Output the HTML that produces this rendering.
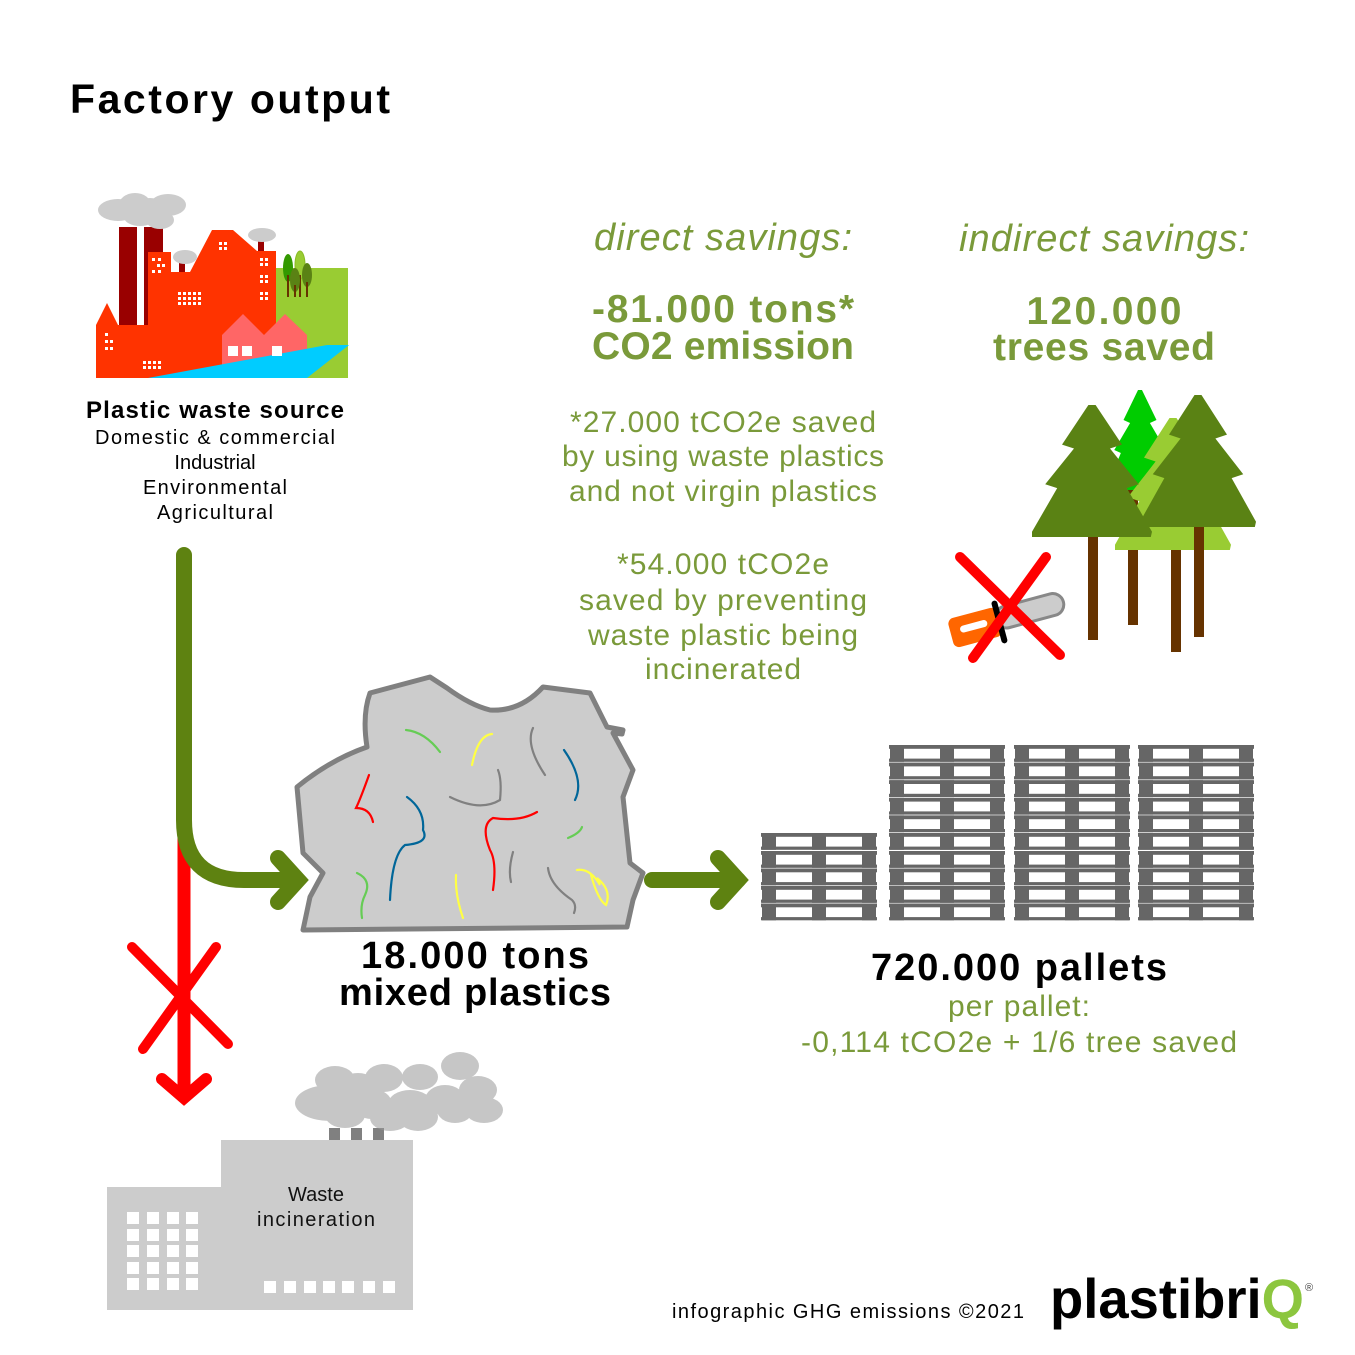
<!DOCTYPE html>
<html><head><meta charset="utf-8"><style>
html,body{margin:0;padding:0;background:#fff}
svg{display:block}
text{font-family:"Liberation Sans",sans-serif}
</style></head><body>
<svg width="1355" height="1355" viewBox="0 0 1355 1355" xmlns="http://www.w3.org/2000/svg">
<rect width="1355" height="1355" fill="#fff"/>
<defs>
<g id="fir"><polygon points="-0.06,0 0.06,0 0.5,0.3 0.3,0.33 0.78,0.6 0.58,0.63 1,0.96 0.98,1 -1,1 -1,0.96 -0.58,0.63 -0.78,0.6 -0.3,0.33 -0.5,0.3"/></g>
<g id="pal" fill="#666">
<rect x="0" y="0" width="116" height="3.8"/>
<rect x="0" y="13.6" width="116" height="3.2"/>
<rect x="1" y="0" width="14" height="16.8"/><rect x="51" y="0" width="14" height="16.8"/><rect x="101" y="0" width="14" height="16.8"/>
</g>
</defs>
<text x="70" y="113" font-size="41" font-weight="bold" fill="#000" textLength="320">Factory output</text>

<!-- factory -->
<g>
<rect x="276" y="268" width="72" height="110" fill="#99cc33"/>
<ellipse cx="288" cy="268" rx="5" ry="14" fill="#339900"/><rect x="287" y="275" width="2" height="22" fill="#663300"/>
<ellipse cx="300" cy="265" rx="5" ry="14" fill="#99cc33" stroke="#88bb22"/><rect x="299" y="275" width="2" height="22" fill="#663300"/>
<ellipse cx="295" cy="280" rx="5" ry="12" fill="#5a8214"/><rect x="294" y="285" width="2" height="12" fill="#663300"/>
<ellipse cx="307" cy="275" rx="5" ry="12" fill="#5a8214"/><rect x="306" y="282" width="2" height="15" fill="#663300"/>
<rect x="119" y="227" width="18" height="100" fill="#990000"/>
<rect x="144" y="227" width="19" height="100" fill="#990000"/>
<rect x="179" y="262" width="6" height="12" fill="#990000"/>
<rect x="258" y="240" width="6" height="12" fill="#990000"/>
<g fill="#ccc">
<ellipse cx="118" cy="210" rx="20" ry="11"/><ellipse cx="135" cy="205" rx="16" ry="12"/><ellipse cx="150" cy="210" rx="16" ry="12"/><ellipse cx="168" cy="205" rx="18" ry="11"/><ellipse cx="140" cy="217" rx="16" ry="9"/><ellipse cx="160" cy="220" rx="14" ry="9"/>
<ellipse cx="185" cy="257" rx="12" ry="7"/><ellipse cx="262" cy="235" rx="14" ry="7"/>
</g>
<polygon points="96,325 107,303 118,325 148,325 148,252 171,252 171,272 190,272 212,230 233,230 257,251 276,251 276,378 96,378" fill="#ff3300"/>
<polygon points="222,335 243,314 264,335 285,314 307,335 307,378 222,378" fill="#ff6666"/>
<polygon points="148,378 327,345 349,345 307,378" fill="#00ccff"/>
<g fill="#fff">
<rect x="105" y="333" width="3" height="3"/><rect x="105" y="340" width="3" height="3"/><rect x="110" y="340" width="3" height="3"/><rect x="105" y="347" width="3" height="3"/><rect x="110" y="347" width="3" height="3"/>
<rect x="152" y="258" width="3" height="3"/><rect x="158" y="258" width="3" height="3"/><rect x="157" y="264" width="3" height="3"/><rect x="162" y="264" width="3" height="3"/><rect x="152" y="270" width="3" height="3"/><rect x="158" y="270" width="3" height="3"/>
<g id="w4"><rect x="178" y="292" width="3" height="3"/><rect x="183" y="292" width="3" height="3"/><rect x="188" y="292" width="3" height="3"/><rect x="193" y="292" width="3" height="3"/><rect x="198" y="292" width="3" height="3"/></g>
<use href="#w4" y="5"/><use href="#w4" y="10"/>
<rect x="219" y="242" width="3" height="3"/><rect x="224" y="242" width="3" height="3"/><rect x="219" y="247" width="3" height="3"/><rect x="224" y="247" width="3" height="3"/>
<rect x="260" y="258" width="3" height="3"/><rect x="265" y="258" width="3" height="3"/><rect x="260" y="263" width="3" height="3"/><rect x="265" y="263" width="3" height="3"/>
<rect x="260" y="275" width="3" height="3"/><rect x="265" y="275" width="3" height="3"/><rect x="260" y="280" width="3" height="3"/><rect x="265" y="280" width="3" height="3"/>
<rect x="260" y="292" width="3" height="3"/><rect x="265" y="292" width="3" height="3"/><rect x="260" y="297" width="3" height="3"/><rect x="265" y="297" width="3" height="3"/>
<rect x="143" y="361" width="3" height="3"/><rect x="148" y="361" width="3" height="3"/><rect x="153" y="361" width="3" height="3"/><rect x="158" y="361" width="3" height="3"/>
<rect x="143" y="366" width="3" height="3"/><rect x="148" y="366" width="3" height="3"/><rect x="153" y="366" width="3" height="3"/><rect x="158" y="366" width="3" height="3"/>
<rect x="228" y="346" width="10" height="10"/><rect x="242" y="346" width="10" height="10"/><rect x="272" y="346" width="10" height="10"/>
</g>
</g>
<text x="215" y="418" font-size="24" font-weight="bold" text-anchor="middle" textLength="258">Plastic waste source</text>
<g font-size="20" text-anchor="middle" fill="#000">
<text x="215" y="444" textLength="240">Domestic &amp; commercial</text>
<text x="215" y="469">Industrial</text>
<text x="215" y="494" textLength="144">Environmental</text>
<text x="215" y="519" textLength="116">Agricultural</text>
</g>

<!-- savings texts -->
<g fill="#7a9a3a" text-anchor="middle">
<text x="723" y="250" font-size="38" font-style="italic" textLength="258">direct savings:</text>
<text x="1104" y="251" font-size="38" font-style="italic" textLength="290">indirect savings:</text>
<text x="723" y="322" font-size="39" font-weight="bold" textLength="262">-81.000 tons*</text>
<text x="723" y="359" font-size="39" font-weight="bold" textLength="262">CO2 emission</text>
<text x="1104" y="324" font-size="39" font-weight="bold" textLength="155">120.000</text>
<text x="1104" y="360" font-size="39" font-weight="bold" textLength="222">trees saved</text>
<g font-size="30">
<text x="723" y="432" textLength="306">*27.000 tCO2e saved</text>
<text x="723" y="466" textLength="322">by using waste plastics</text>
<text x="723" y="501" textLength="308">and not virgin plastics</text>
<text x="723" y="574" textLength="212">*54.000 tCO2e</text>
<text x="723" y="610" textLength="288">saved by preventing</text>
<text x="723" y="645" textLength="270">waste plastic being</text>
<text x="723" y="679" textLength="156">incinerated</text>
<text x="1019" y="1016" textLength="142">per pallet:</text>
<text x="1019" y="1052" textLength="436">-0,114 tCO2e + 1/6 tree saved</text>
</g>
</g>

<!-- trees -->
<rect x="1128" y="480" width="10" height="145" fill="#663300"/>
<g fill="#00cc00" transform="translate(1140,390) scale(33,100)"><use href="#fir"/></g>
<rect x="1171" y="545" width="10" height="107" fill="#663300"/>
<g fill="#99cc33" transform="translate(1173,418) scale(58,132)"><use href="#fir"/></g>
<rect x="1088" y="530" width="10" height="110" fill="#663300"/>
<g fill="#5a8214" transform="translate(1092,405) scale(60,132)"><use href="#fir"/></g>
<rect x="1194" y="520" width="10" height="117" fill="#663300"/>
<g fill="#5a8214" transform="translate(1198,395) scale(58,132)"><use href="#fir"/></g>

<!-- chainsaw -->
<g transform="rotate(-15 1010 615)">
<rect x="995" y="605" width="70" height="22" rx="11" fill="#ccc" stroke="#888" stroke-width="3"/>
<rect x="948" y="603" width="50" height="30" rx="6" fill="#ff6600"/>
<rect x="958" y="613" width="28" height="7" rx="3.5" fill="#fff"/>
<rect x="995" y="597" width="6" height="44" rx="3" fill="#000"/>
</g>
<g stroke="#ff0000" stroke-width="10" stroke-linecap="round">
<line x1="960" y1="557" x2="1060" y2="655"/><line x1="1046" y1="557" x2="973" y2="658"/>
</g>

<!-- arrows -->
<path d="M184,832 L184,1095" stroke="#ff0000" stroke-width="13" fill="none"/>
<polyline points="162,1079 184,1098 206,1079" stroke="#ff0000" stroke-width="12" stroke-linecap="round" fill="none"/>
<g stroke="#ff0000" stroke-width="10" stroke-linecap="round">
<line x1="132" y1="947" x2="228" y2="1044"/><line x1="216" y1="947" x2="143" y2="1049"/>
</g>
<path d="M184,555 L184,820 Q184,880 244,880 L296,880" stroke="#5e8211" stroke-width="16" fill="none" stroke-linecap="round"/>
<polyline points="278,858 298,880 278,902" stroke="#5e8211" stroke-width="16" stroke-linecap="round" fill="none"/>
<path d="M652,880 L738,880" stroke="#5e8211" stroke-width="16" fill="none" stroke-linecap="round"/>
<polyline points="718,858 738,880 718,902" stroke="#5e8211" stroke-width="16" stroke-linecap="round" fill="none"/>

<!-- rock -->
<path d="M370,693 L430,677 L447,688 Q470,705 490,710 Q520,712 543,687 L590,693 L607,727 L623,730 L622,734 L613,733 L633,770 L623,797 L630,863 L643,873 L633,900 L627,927 L303,930 L310,897 L323,873 L303,853 L297,787 Q330,760 367,747 Q362,715 370,693 Z" fill="#ccc" stroke="#808080" stroke-width="5" stroke-linejoin="round"/>
<g fill="none" stroke-width="2.2" stroke-linecap="round">
<path d="M406,730 Q425,732 440,752" stroke="#66cc55"/>
<path d="M472,765 Q478,735 492,734" stroke="#ffff44"/>
<path d="M533,728 Q525,745 545,775" stroke="#808080"/>
<path d="M564,750 Q585,780 575,800" stroke="#006699"/>
<path d="M369,775 Q360,800 356,808 Q370,808 373,822" stroke="#ff0000"/>
<path d="M407,797 Q425,810 423,830 Q430,843 405,845 Q392,855 390,900" stroke="#006699"/>
<path d="M450,797 Q480,812 500,800 Q502,780 498,770" stroke="#808080"/>
<path d="M537,812 Q520,822 493,818 Q480,825 490,850 Q497,862 493,890" stroke="#ff0000"/>
<path d="M568,838 Q580,833 582,827" stroke="#66cc55"/>
<path d="M357,873 Q372,880 365,895 Q360,905 362,918" stroke="#66cc55"/>
<path d="M456,875 Q455,895 463,918" stroke="#ffff44"/>
<path d="M513,852 Q508,870 511,882" stroke="#808080"/>
<path d="M548,868 Q550,885 572,900 Q577,905 574,913" stroke="#808080"/>
<path d="M577,870 Q590,868 600,885 L597,878 Q612,890 606,905 Q598,900 591,875" stroke="#ffff44"/>
</g>
<text x="475" y="968" font-size="38" font-weight="bold" text-anchor="middle" textLength="228">18.000 tons</text>
<text x="475" y="1005" font-size="38" font-weight="bold" text-anchor="middle" textLength="272">mixed plastics</text>

<!-- pallets -->
<g>
<use href="#pal" x="761" y="833"/><use href="#pal" x="761" y="851"/><use href="#pal" x="761" y="868.5"/><use href="#pal" x="761" y="886"/><use href="#pal" x="761" y="903.5"/>
</g>
<g id="stk">
<use href="#pal" x="889" y="745"/><use href="#pal" x="889" y="762.6"/><use href="#pal" x="889" y="780.2"/><use href="#pal" x="889" y="797.8"/><use href="#pal" x="889" y="815.4"/><use href="#pal" x="889" y="833"/><use href="#pal" x="889" y="851"/><use href="#pal" x="889" y="868.5"/><use href="#pal" x="889" y="886"/><use href="#pal" x="889" y="903.5"/>
</g>
<use href="#stk" x="125"/>
<use href="#stk" x="249"/>
<text x="1019" y="980" font-size="38" font-weight="bold" text-anchor="middle" textLength="296">720.000 pallets</text>

<!-- incinerator -->
<g fill="#808080"><rect x="329" y="1128" width="11" height="12"/><rect x="351" y="1128" width="11" height="12"/><rect x="373" y="1128" width="11" height="12"/></g>
<g fill="#999" opacity="0.55">
<ellipse cx="330" cy="1103" rx="35" ry="18"/><ellipse cx="335" cy="1080" rx="20" ry="14"/><ellipse cx="358" cy="1088" rx="20" ry="15"/><ellipse cx="384" cy="1078" rx="19" ry="14"/><ellipse cx="420" cy="1077" rx="18" ry="13"/><ellipse cx="460" cy="1066" rx="19" ry="14"/><ellipse cx="478" cy="1090" rx="19" ry="14"/><ellipse cx="484" cy="1110" rx="19" ry="13"/><ellipse cx="445" cy="1100" rx="20" ry="15"/><ellipse cx="410" cy="1104" rx="22" ry="14"/><ellipse cx="372" cy="1104" rx="20" ry="15"/><ellipse cx="345" cy="1115" rx="20" ry="13"/><ellipse cx="390" cy="1118" rx="20" ry="13"/><ellipse cx="418" cy="1117" rx="20" ry="14"/><ellipse cx="455" cy="1110" rx="18" ry="13"/>
</g>
<rect x="107" y="1187" width="114" height="123" fill="#ccc"/>
<rect x="221" y="1140" width="192" height="170" fill="#ccc"/>
<g fill="#fff">
<g id="wrow"><rect x="127" y="1212" width="12" height="12"/><rect x="147" y="1212" width="12" height="12"/><rect x="167" y="1212" width="12" height="12"/><rect x="186" y="1212" width="12" height="12"/></g>
<use href="#wrow" y="17"/><use href="#wrow" y="33"/><use href="#wrow" y="50"/><use href="#wrow" y="66"/>
<rect x="264" y="1281" width="12" height="12"/><rect x="284" y="1281" width="12" height="12"/><rect x="304" y="1281" width="12" height="12"/><rect x="323" y="1281" width="12" height="12"/><rect x="342" y="1281" width="12" height="12"/><rect x="363" y="1281" width="12" height="12"/><rect x="383" y="1281" width="12" height="12"/>
</g>
<text x="316" y="1201" font-size="20" text-anchor="middle" fill="#111">Waste</text>
<text x="316" y="1226" font-size="20" text-anchor="middle" fill="#111" textLength="118">incineration</text>

<!-- footer -->
<text x="672" y="1318" font-size="20" fill="#000" textLength="352">infographic GHG emissions ©2021</text>
<text x="1050" y="1318" font-size="56" font-weight="bold" fill="#000" textLength="254" lengthAdjust="spacingAndGlyphs">plastibri<tspan fill="#8cc63f">Q</tspan></text>
<text x="1305" y="1291" font-size="11" fill="#444">®</text>
</svg>
</body></html>
